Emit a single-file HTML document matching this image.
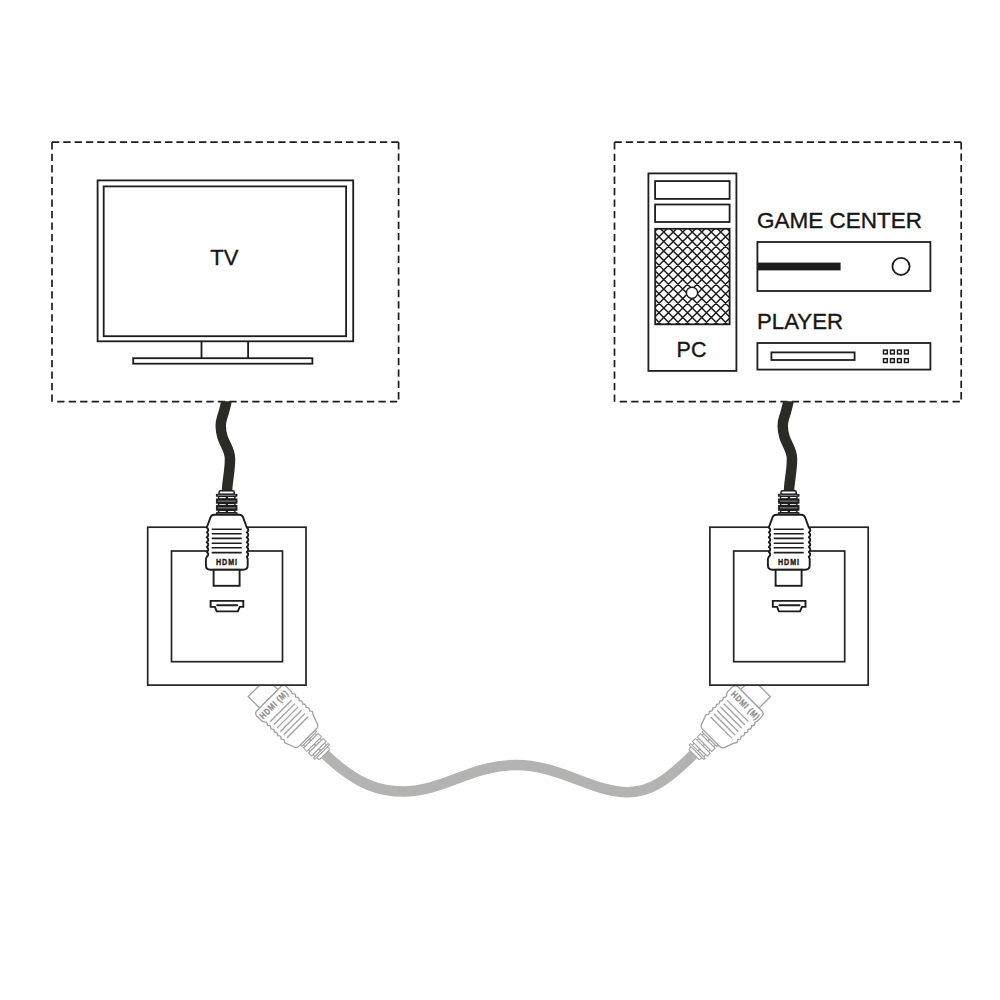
<!DOCTYPE html><html><head><meta charset="utf-8"><style>html,body{margin:0;padding:0;background:#fff;}svg{display:block;}text{font-family:"Liberation Sans",sans-serif;}</style></head><body>
<svg width="1000" height="1000" viewBox="0 0 1000 1000">
<rect width="1000" height="1000" fill="#fff"/>
<path d="M52.00 142.20L398.60 142.20" stroke="#1d1d1d" stroke-width="1.7" fill="none" stroke-dasharray="7.3 4.010"/>
<path d="M398.60 142.20L398.60 399.40" stroke="#1d1d1d" stroke-width="1.7" fill="none" stroke-dasharray="7.3 4.059"/>
<path d="M397.20 401.70L57.20 401.70" stroke="#1d1d1d" stroke-width="1.7" fill="none" stroke-dasharray="7.3 4.172"/>
<path d="M52.00 401.70L52.00 142.20" stroke="#1d1d1d" stroke-width="1.7" fill="none" stroke-dasharray="7.3 4.164"/>
<path d="M614.50 142.20L961.20 142.20" stroke="#1d1d1d" stroke-width="1.7" fill="none" stroke-dasharray="7.3 4.013"/>
<path d="M961.20 142.20L961.20 399.40" stroke="#1d1d1d" stroke-width="1.7" fill="none" stroke-dasharray="7.3 4.059"/>
<path d="M959.80 401.70L619.70 401.70" stroke="#1d1d1d" stroke-width="1.7" fill="none" stroke-dasharray="7.3 4.176"/>
<path d="M614.50 401.70L614.50 142.20" stroke="#1d1d1d" stroke-width="1.7" fill="none" stroke-dasharray="7.3 4.164"/>
<g fill="none" stroke="#1d1d1d" stroke-width="1.8">
<rect x="97.6" y="180.4" width="255.6" height="160.9"/>
<rect x="103.7" y="186.4" width="242.4" height="149.8"/>
<path d="M201.5 341.3V358.2M248.1 341.3V358.2"/>
<rect x="133.2" y="358.2" width="179.2" height="5.5"/>
</g>
<text x="224.4" y="264.8" font-size="22" text-anchor="middle" fill="#161616" stroke="#161616" stroke-width="0.35">TV</text>
<g fill="none" stroke="#1d1d1d" stroke-width="1.8">
<rect x="648.4" y="173.4" width="88" height="197.5"/>
<rect x="655.1" y="181.1" width="74.5" height="17.8"/>
<rect x="655.1" y="204.5" width="74.5" height="17.5"/>
</g>
<clipPath id="gc"><rect x="655.2" y="228.8" width="74.4" height="95.5"/></clipPath>
<g clip-path="url(#gc)"><path d="M460.55 218.8L576.05 334.3M486.95 218.8L371.45 334.3M470.05 218.8L585.55 334.3M496.45 218.8L380.95 334.3M479.55 218.8L595.05 334.3M505.95 218.8L390.45 334.3M489.05 218.8L604.55 334.3M515.45 218.8L399.95 334.3M498.55 218.8L614.05 334.3M524.95 218.8L409.45 334.3M508.05 218.8L623.55 334.3M534.45 218.8L418.95 334.3M517.55 218.8L633.05 334.3M543.95 218.8L428.45 334.3M527.05 218.8L642.55 334.3M553.45 218.8L437.95 334.3M536.55 218.8L652.05 334.3M562.95 218.8L447.45 334.3M546.05 218.8L661.55 334.3M572.45 218.8L456.95 334.3M555.55 218.8L671.05 334.3M581.95 218.8L466.45 334.3M565.05 218.8L680.55 334.3M591.45 218.8L475.95 334.3M574.55 218.8L690.05 334.3M600.95 218.8L485.45 334.3M584.05 218.8L699.55 334.3M610.45 218.8L494.95 334.3M593.55 218.8L709.05 334.3M619.95 218.8L504.45 334.3M603.05 218.8L718.55 334.3M629.45 218.8L513.95 334.3M612.55 218.8L728.05 334.3M638.95 218.8L523.45 334.3M622.05 218.8L737.55 334.3M648.45 218.8L532.95 334.3M631.55 218.8L747.05 334.3M657.95 218.8L542.45 334.3M641.05 218.8L756.55 334.3M667.45 218.8L551.95 334.3M650.55 218.8L766.05 334.3M676.95 218.8L561.45 334.3M660.05 218.8L775.55 334.3M686.45 218.8L570.95 334.3M669.55 218.8L785.05 334.3M695.95 218.8L580.45 334.3M679.05 218.8L794.55 334.3M705.45 218.8L589.95 334.3M688.55 218.8L804.05 334.3M714.95 218.8L599.45 334.3M698.05 218.8L813.55 334.3M724.45 218.8L608.95 334.3M707.55 218.8L823.05 334.3M733.95 218.8L618.45 334.3M717.05 218.8L832.55 334.3M743.45 218.8L627.95 334.3M726.55 218.8L842.05 334.3M752.95 218.8L637.45 334.3M736.05 218.8L851.55 334.3M762.45 218.8L646.95 334.3M745.55 218.8L861.05 334.3M771.95 218.8L656.45 334.3M755.05 218.8L870.55 334.3M781.45 218.8L665.95 334.3M764.55 218.8L880.05 334.3M790.95 218.8L675.45 334.3M774.05 218.8L889.55 334.3M800.45 218.8L684.95 334.3M783.55 218.8L899.05 334.3M809.95 218.8L694.45 334.3M793.05 218.8L908.55 334.3M819.45 218.8L703.95 334.3M802.55 218.8L918.05 334.3M828.95 218.8L713.45 334.3M812.05 218.8L927.55 334.3M838.45 218.8L722.95 334.3M821.55 218.8L937.05 334.3M847.95 218.8L732.45 334.3M831.05 218.8L946.55 334.3M857.45 218.8L741.95 334.3M840.55 218.8L956.05 334.3M866.95 218.8L751.45 334.3M850.05 218.8L965.55 334.3M876.45 218.8L760.95 334.3M859.55 218.8L975.05 334.3M885.95 218.8L770.45 334.3M869.05 218.8L984.55 334.3M895.45 218.8L779.95 334.3M878.55 218.8L994.05 334.3M904.95 218.8L789.45 334.3M888.05 218.8L1003.55 334.3M914.45 218.8L798.95 334.3M897.55 218.8L1013.05 334.3M923.95 218.8L808.45 334.3M907.05 218.8L1022.55 334.3M933.45 218.8L817.95 334.3M916.55 218.8L1032.05 334.3M942.95 218.8L827.45 334.3M926.05 218.8L1041.55 334.3M952.45 218.8L836.95 334.3" stroke="#1d1d1d" stroke-width="1.5" fill="none"/></g>
<rect x="655.2" y="228.8" width="74.4" height="95.5" fill="none" stroke="#1d1d1d" stroke-width="1.8"/>
<circle cx="692" cy="292.8" r="5.6" fill="#fff" stroke="#1d1d1d" stroke-width="1.4"/>
<text x="691.5" y="357.3" font-size="21.5" text-anchor="middle" fill="#161616" stroke="#161616" stroke-width="0.35">PC</text>
<text x="757" y="228.4" font-size="22.2" fill="#161616" stroke="#161616" stroke-width="0.35" textLength="165" lengthAdjust="spacingAndGlyphs">GAME CENTER</text>
<g fill="none" stroke="#1d1d1d" stroke-width="1.8">
<rect x="757.4" y="242" width="173" height="49"/>
<circle cx="901" cy="266.4" r="8.6"/>
</g>
<rect x="757.4" y="262.6" width="83.2" height="7.8" fill="#1d1d1d"/>
<text x="757" y="329" font-size="22.2" fill="#161616" stroke="#161616" stroke-width="0.35" textLength="86" lengthAdjust="spacingAndGlyphs">PLAYER</text>
<g fill="none" stroke="#1d1d1d" stroke-width="1.8">
<rect x="757.4" y="343" width="173" height="26.6"/>
<rect x="771.4" y="352.4" width="83.2" height="7.6"/>
</g>
<g fill="none" stroke="#1d1d1d" stroke-width="1.5"><rect x="883.5" y="350.1" width="3.8" height="3.8"/><rect x="890.5" y="350.1" width="3.8" height="3.8"/><rect x="897.5" y="350.1" width="3.8" height="3.8"/><rect x="904.5" y="350.1" width="3.8" height="3.8"/><rect x="883.5" y="358.7" width="3.8" height="3.8"/><rect x="890.5" y="358.7" width="3.8" height="3.8"/><rect x="897.5" y="358.7" width="3.8" height="3.8"/><rect x="904.5" y="358.7" width="3.8" height="3.8"/></g>
<path d="M322 751.4 C357 786.4 382 791.5 404 791.5 C442 791.5 472 765 516 765 C560 765 592 792.2 628 792.2 C650 792.2 666.5 781.4 696.5 751.4" stroke="#b3b3b1" stroke-width="10.5" fill="none"/>
<g transform="translate(268.85 698.6) rotate(-45)"><g transform="scale(1 -1)"><path d="M-7.8 -75.5V-77.4Q-7.8 -79 -6.2 -79H5.9Q7.5 -79 7.5 -77.4V-75.5Z" fill="#fff" stroke="#a0a0a0" stroke-width="1.0"/><rect x="-8.2" y="-73.6" width="7.8" height="2.8" fill="#fff" stroke="#a0a0a0" stroke-width="1.0"/><rect x="0.4" y="-73.6" width="7.7" height="2.8" fill="#fff" stroke="#a0a0a0" stroke-width="1.0"/><rect x="-8.2" y="-66.6" width="7.8" height="2.4" fill="#fff" stroke="#a0a0a0" stroke-width="1.0"/><rect x="0.4" y="-66.6" width="7.7" height="2.4" fill="#fff" stroke="#a0a0a0" stroke-width="1.0"/><rect x="-8.2" y="-59.6" width="7.8" height="2.5" fill="#fff" stroke="#a0a0a0" stroke-width="1.0"/><rect x="0.4" y="-59.6" width="7.7" height="2.5" fill="#fff" stroke="#a0a0a0" stroke-width="1.0"/><rect x="-10.4" y="-75.5" width="20.6" height="1.9" fill="#fff" stroke="#a0a0a0" stroke-width="1.0"/><rect x="-10.4" y="-70.8" width="20.6" height="4.2" fill="#fff" stroke="#a0a0a0" stroke-width="1.0"/><rect x="-10.4" y="-64.2" width="20.6" height="4.6" fill="#fff" stroke="#a0a0a0" stroke-width="1.0"/><rect x="-10.4" y="-57.1" width="20.6" height="2.4" fill="#fff" stroke="#a0a0a0" stroke-width="1.0"/><path d="M-12.6 -55 L12.6 -55 Q15.2 -55 16.2 -52.6 L20 -42.3 q3.00 2.44 0 4.88 q3.00 2.44 0 4.88 q3.00 2.44 0 4.88 q3.00 2.44 0 4.88 q3.00 2.44 0 4.88 q3.00 2.44 0 4.88 L20.9 -11 L20.9 -4.5 Q20.9 0 16.4 0 L-16.4 0 Q-20.9 0 -20.9 -4.5 L-20.9 -11 L-20 -13.02 q3.00 -2.44 0 -4.88 q3.00 -2.44 0 -4.88 q3.00 -2.44 0 -4.88 q3.00 -2.44 0 -4.88 q3.00 -2.44 0 -4.88 q3.00 -2.44 0 -4.88 L-16.2 -52.6 Q-15.2 -55 -12.6 -55 Z" fill="#fff" stroke="#a0a0a0" stroke-width="1.3" stroke-linejoin="round"/><path d="M-15.1 -40.6H14.9M-15.1 -36.1H14.9M-15.1 -31.4H14.9M-15.1 -26.6H14.9M-15.1 -22.0H14.9M-15.1 -17.2H14.9" stroke="#a0a0a0" stroke-width="1.3" fill="none"/><rect x="-13.2" y="0" width="26" height="16" fill="#fff" stroke="#a0a0a0" stroke-width="1.3"/></g><text transform="scale(0.78 1)" x="-0.5" y="10.9" font-size="9" font-weight="bold" text-anchor="middle" fill="#8a8a8a" stroke="#8a8a8a" stroke-width="0.25" letter-spacing="1.0">HDMI (M)</text></g>
<g transform="translate(750.0 698.9) rotate(45)"><g transform="scale(1 -1)"><path d="M-7.8 -75.5V-77.4Q-7.8 -79 -6.2 -79H5.9Q7.5 -79 7.5 -77.4V-75.5Z" fill="#fff" stroke="#a0a0a0" stroke-width="1.0"/><rect x="-8.2" y="-73.6" width="7.8" height="2.8" fill="#fff" stroke="#a0a0a0" stroke-width="1.0"/><rect x="0.4" y="-73.6" width="7.7" height="2.8" fill="#fff" stroke="#a0a0a0" stroke-width="1.0"/><rect x="-8.2" y="-66.6" width="7.8" height="2.4" fill="#fff" stroke="#a0a0a0" stroke-width="1.0"/><rect x="0.4" y="-66.6" width="7.7" height="2.4" fill="#fff" stroke="#a0a0a0" stroke-width="1.0"/><rect x="-8.2" y="-59.6" width="7.8" height="2.5" fill="#fff" stroke="#a0a0a0" stroke-width="1.0"/><rect x="0.4" y="-59.6" width="7.7" height="2.5" fill="#fff" stroke="#a0a0a0" stroke-width="1.0"/><rect x="-10.4" y="-75.5" width="20.6" height="1.9" fill="#fff" stroke="#a0a0a0" stroke-width="1.0"/><rect x="-10.4" y="-70.8" width="20.6" height="4.2" fill="#fff" stroke="#a0a0a0" stroke-width="1.0"/><rect x="-10.4" y="-64.2" width="20.6" height="4.6" fill="#fff" stroke="#a0a0a0" stroke-width="1.0"/><rect x="-10.4" y="-57.1" width="20.6" height="2.4" fill="#fff" stroke="#a0a0a0" stroke-width="1.0"/><path d="M-12.6 -55 L12.6 -55 Q15.2 -55 16.2 -52.6 L20 -42.3 q3.00 2.44 0 4.88 q3.00 2.44 0 4.88 q3.00 2.44 0 4.88 q3.00 2.44 0 4.88 q3.00 2.44 0 4.88 q3.00 2.44 0 4.88 L20.9 -11 L20.9 -4.5 Q20.9 0 16.4 0 L-16.4 0 Q-20.9 0 -20.9 -4.5 L-20.9 -11 L-20 -13.02 q3.00 -2.44 0 -4.88 q3.00 -2.44 0 -4.88 q3.00 -2.44 0 -4.88 q3.00 -2.44 0 -4.88 q3.00 -2.44 0 -4.88 q3.00 -2.44 0 -4.88 L-16.2 -52.6 Q-15.2 -55 -12.6 -55 Z" fill="#fff" stroke="#a0a0a0" stroke-width="1.3" stroke-linejoin="round"/><path d="M-15.1 -40.6H14.9M-15.1 -36.1H14.9M-15.1 -31.4H14.9M-15.1 -26.6H14.9M-15.1 -22.0H14.9M-15.1 -17.2H14.9" stroke="#a0a0a0" stroke-width="1.3" fill="none"/><rect x="-13.2" y="0" width="26" height="16" fill="#fff" stroke="#a0a0a0" stroke-width="1.3"/></g><text transform="scale(0.78 1)" x="2.2" y="10.9" font-size="9" font-weight="bold" text-anchor="middle" fill="#8a8a8a" stroke="#8a8a8a" stroke-width="0.25" letter-spacing="1.0">HDMI (M)</text></g>
<g transform="translate(0 0)">
<rect x="147.7" y="527.2" width="158.3" height="157.9" fill="#fff" stroke="#242424" stroke-width="1.7"/>
<rect x="171.5" y="551" width="111" height="110.7" fill="none" stroke="#242424" stroke-width="1.7"/>
<path d="M210.6 600.9H243.3V606.9H239.7L237.9 611.4H216.7L214.9 606.9H210.6Z" fill="none" stroke="#1d1d1d" stroke-width="1.9"/>
<path d="M217.2 605.35H237.3" stroke="#1d1d1d" stroke-width="2" stroke-linecap="round"/>
</g>
<g transform="translate(562.2 0)">
<rect x="147.7" y="527.2" width="158.3" height="157.9" fill="#fff" stroke="#242424" stroke-width="1.7"/>
<rect x="171.5" y="551" width="111" height="110.7" fill="none" stroke="#242424" stroke-width="1.7"/>
<path d="M210.6 600.9H243.3V606.9H239.7L237.9 611.4H216.7L214.9 606.9H210.6Z" fill="none" stroke="#1d1d1d" stroke-width="1.9"/>
<path d="M217.2 605.35H237.3" stroke="#1d1d1d" stroke-width="2" stroke-linecap="round"/>
</g>
<clipPath id="cc"><rect x="0" y="401.2" width="1000" height="200"/></clipPath>
<g transform="translate(0 0)">
<path clip-path="url(#cc)" d="M227.6 396 C226 404 224.8 410 222 418 C220 424 221 432 222.5 437 C224.5 444 230 450 230 459 C230 472 227 482 227 492" stroke="#2a2a27" stroke-width="10.5" fill="none"/>
<g transform="translate(226.8 569.8)"><path d="M-7.8 -75.5V-77.4Q-7.8 -79 -6.2 -79H5.9Q7.5 -79 7.5 -77.4V-75.5Z" fill="#fff" stroke="#1d1d1d" stroke-width="1.5"/><rect x="-8.2" y="-73.6" width="7.8" height="2.8" fill="#fff" stroke="#1d1d1d" stroke-width="1.5"/><rect x="0.4" y="-73.6" width="7.7" height="2.8" fill="#fff" stroke="#1d1d1d" stroke-width="1.5"/><rect x="-8.2" y="-66.6" width="7.8" height="2.4" fill="#fff" stroke="#1d1d1d" stroke-width="1.5"/><rect x="0.4" y="-66.6" width="7.7" height="2.4" fill="#fff" stroke="#1d1d1d" stroke-width="1.5"/><rect x="-8.2" y="-59.6" width="7.8" height="2.5" fill="#fff" stroke="#1d1d1d" stroke-width="1.5"/><rect x="0.4" y="-59.6" width="7.7" height="2.5" fill="#fff" stroke="#1d1d1d" stroke-width="1.5"/><rect x="-10.4" y="-75.5" width="20.6" height="1.9" fill="#1d1d1d" stroke="#1d1d1d" stroke-width="0.90"/><rect x="-9.0" y="-74.95" width="17.8" height="0.8" fill="#aaa"/><rect x="-10.4" y="-70.8" width="20.6" height="4.2" fill="#1d1d1d" stroke="#1d1d1d" stroke-width="0.90"/><rect x="-9.0" y="-69.10" width="17.8" height="0.8" fill="#aaa"/><rect x="-10.4" y="-64.2" width="20.6" height="4.6" fill="#1d1d1d" stroke="#1d1d1d" stroke-width="0.90"/><rect x="-9.0" y="-62.30" width="17.8" height="0.8" fill="#aaa"/><rect x="-10.4" y="-57.1" width="20.6" height="2.4" fill="#1d1d1d" stroke="#1d1d1d" stroke-width="0.90"/><rect x="-9.0" y="-56.30" width="17.8" height="0.8" fill="#aaa"/><path d="M-12.6 -55 L12.6 -55 Q15.2 -55 16.2 -52.6 L20 -42.3 q3.00 2.44 0 4.88 q3.00 2.44 0 4.88 q3.00 2.44 0 4.88 q3.00 2.44 0 4.88 q3.00 2.44 0 4.88 q3.00 2.44 0 4.88 L20.9 -11 L20.9 -4.5 Q20.9 0 16.4 0 L-16.4 0 Q-20.9 0 -20.9 -4.5 L-20.9 -11 L-20 -13.02 q3.00 -2.44 0 -4.88 q3.00 -2.44 0 -4.88 q3.00 -2.44 0 -4.88 q3.00 -2.44 0 -4.88 q3.00 -2.44 0 -4.88 q3.00 -2.44 0 -4.88 L-16.2 -52.6 Q-15.2 -55 -12.6 -55 Z" fill="#fff" stroke="#1d1d1d" stroke-width="1.9" stroke-linejoin="round"/><path d="M-15.1 -40.6H14.9M-15.1 -36.1H14.9M-15.1 -31.4H14.9M-15.1 -26.6H14.9M-15.1 -22.0H14.9M-15.1 -17.2H14.9" stroke="#1d1d1d" stroke-width="1.6" fill="none"/><rect x="-13.2" y="0" width="26" height="16" fill="#fff" stroke="#1d1d1d" stroke-width="1.9"/><text transform="scale(0.74 1)" x="0.2" y="-4.7" font-size="9.6" font-weight="bold" text-anchor="middle" letter-spacing="1.2" fill="#1d1d1d" stroke="#1d1d1d" stroke-width="0.45">HDMI</text></g>
</g>
<g transform="translate(562 0)">
<path clip-path="url(#cc)" d="M227.6 396 C226 404 224.8 410 222 418 C220 424 221 432 222.5 437 C224.5 444 230 450 230 459 C230 472 227 482 227 492" stroke="#2a2a27" stroke-width="10.5" fill="none"/>
<g transform="translate(226.8 569.8)"><path d="M-7.8 -75.5V-77.4Q-7.8 -79 -6.2 -79H5.9Q7.5 -79 7.5 -77.4V-75.5Z" fill="#fff" stroke="#1d1d1d" stroke-width="1.5"/><rect x="-8.2" y="-73.6" width="7.8" height="2.8" fill="#fff" stroke="#1d1d1d" stroke-width="1.5"/><rect x="0.4" y="-73.6" width="7.7" height="2.8" fill="#fff" stroke="#1d1d1d" stroke-width="1.5"/><rect x="-8.2" y="-66.6" width="7.8" height="2.4" fill="#fff" stroke="#1d1d1d" stroke-width="1.5"/><rect x="0.4" y="-66.6" width="7.7" height="2.4" fill="#fff" stroke="#1d1d1d" stroke-width="1.5"/><rect x="-8.2" y="-59.6" width="7.8" height="2.5" fill="#fff" stroke="#1d1d1d" stroke-width="1.5"/><rect x="0.4" y="-59.6" width="7.7" height="2.5" fill="#fff" stroke="#1d1d1d" stroke-width="1.5"/><rect x="-10.4" y="-75.5" width="20.6" height="1.9" fill="#1d1d1d" stroke="#1d1d1d" stroke-width="0.90"/><rect x="-9.0" y="-74.95" width="17.8" height="0.8" fill="#aaa"/><rect x="-10.4" y="-70.8" width="20.6" height="4.2" fill="#1d1d1d" stroke="#1d1d1d" stroke-width="0.90"/><rect x="-9.0" y="-69.10" width="17.8" height="0.8" fill="#aaa"/><rect x="-10.4" y="-64.2" width="20.6" height="4.6" fill="#1d1d1d" stroke="#1d1d1d" stroke-width="0.90"/><rect x="-9.0" y="-62.30" width="17.8" height="0.8" fill="#aaa"/><rect x="-10.4" y="-57.1" width="20.6" height="2.4" fill="#1d1d1d" stroke="#1d1d1d" stroke-width="0.90"/><rect x="-9.0" y="-56.30" width="17.8" height="0.8" fill="#aaa"/><path d="M-12.6 -55 L12.6 -55 Q15.2 -55 16.2 -52.6 L20 -42.3 q3.00 2.44 0 4.88 q3.00 2.44 0 4.88 q3.00 2.44 0 4.88 q3.00 2.44 0 4.88 q3.00 2.44 0 4.88 q3.00 2.44 0 4.88 L20.9 -11 L20.9 -4.5 Q20.9 0 16.4 0 L-16.4 0 Q-20.9 0 -20.9 -4.5 L-20.9 -11 L-20 -13.02 q3.00 -2.44 0 -4.88 q3.00 -2.44 0 -4.88 q3.00 -2.44 0 -4.88 q3.00 -2.44 0 -4.88 q3.00 -2.44 0 -4.88 q3.00 -2.44 0 -4.88 L-16.2 -52.6 Q-15.2 -55 -12.6 -55 Z" fill="#fff" stroke="#1d1d1d" stroke-width="1.9" stroke-linejoin="round"/><path d="M-15.1 -40.6H14.9M-15.1 -36.1H14.9M-15.1 -31.4H14.9M-15.1 -26.6H14.9M-15.1 -22.0H14.9M-15.1 -17.2H14.9" stroke="#1d1d1d" stroke-width="1.6" fill="none"/><rect x="-13.2" y="0" width="26" height="16" fill="#fff" stroke="#1d1d1d" stroke-width="1.9"/><text transform="scale(0.74 1)" x="0.2" y="-4.7" font-size="9.6" font-weight="bold" text-anchor="middle" letter-spacing="1.2" fill="#1d1d1d" stroke="#1d1d1d" stroke-width="0.45">HDMI</text></g>
</g>
</svg></body></html>
